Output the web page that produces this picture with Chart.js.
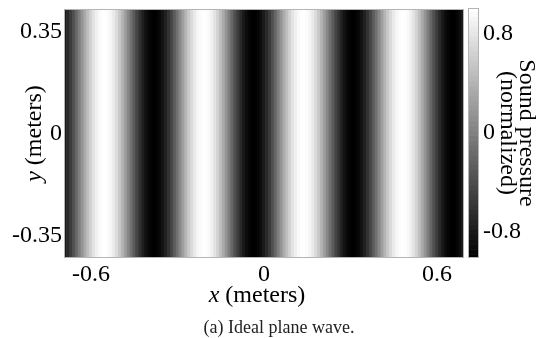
<!DOCTYPE html>
<html>
<head>
<meta charset="utf-8">
<script src="https://cdn.jsdelivr.net/npm/chart.js@4.4.1/dist/chart.umd.min.js"></script>
<style>
  body { margin: 0; background: #fff; }
  #wrap { position: relative; width: 554px; height: 338px; }
  #wrap canvas { position: absolute; left: 0; top: 0; }
  #caption { position: absolute; left: 0; top: 317px; width: 558px; text-align: center;
             font: 18px "Liberation Serif", "Times New Roman", serif; color: #222; }
</style>
</head>
<body>
<div id="wrap">
  <canvas id="waveChart" width="554" height="338"></canvas>
  <canvas id="barChart" width="554" height="338"></canvas>
  <div id="caption">(a) Ideal plane wave.</div>
</div>
<script>
// x position of each column of the field (meters)
const xCells = [
  -0.69, -0.68, -0.67, -0.66, -0.65, -0.64, -0.63, -0.62, -0.61, -0.60,
  -0.59, -0.58, -0.57, -0.56, -0.55, -0.54, -0.53, -0.52, -0.51, -0.50,
  -0.49, -0.48, -0.47, -0.46, -0.45, -0.44, -0.43, -0.42, -0.41, -0.40,
  -0.39, -0.38, -0.37, -0.36, -0.35, -0.34, -0.33, -0.32, -0.31, -0.30,
  -0.29, -0.28, -0.27, -0.26, -0.25, -0.24, -0.23, -0.22, -0.21, -0.20,
  -0.19, -0.18, -0.17, -0.16, -0.15, -0.14, -0.13, -0.12, -0.11, -0.10,
  -0.09, -0.08, -0.07, -0.06, -0.05, -0.04, -0.03, -0.02, -0.01, 0.00,
  0.01, 0.02, 0.03, 0.04, 0.05, 0.06, 0.07, 0.08, 0.09, 0.10,
  0.11, 0.12, 0.13, 0.14, 0.15, 0.16, 0.17, 0.18, 0.19, 0.20,
  0.21, 0.22, 0.23, 0.24, 0.25, 0.26, 0.27, 0.28, 0.29, 0.30,
  0.31, 0.32, 0.33, 0.34, 0.35, 0.36, 0.37, 0.38, 0.39, 0.40,
  0.41, 0.42, 0.43, 0.44, 0.45, 0.46, 0.47, 0.48, 0.49, 0.50,
  0.51, 0.52, 0.53, 0.54, 0.55, 0.56, 0.57, 0.58, 0.59, 0.60,
  0.61, 0.62, 0.63, 0.64, 0.65, 0.66, 0.67, 0.68, 0.69
];
// normalized sound pressure in each column (same for every y)
const pressure = [
  -0.80, -0.68, -0.54, -0.38, -0.20, -0.02, 0.16, 0.33, 0.50, 0.65,
  0.78, 0.88, 0.95, 0.99, 1.00, 0.97, 0.92, 0.83, 0.72, 0.58,
  0.42, 0.25, 0.07, -0.11, -0.29, -0.46, -0.61, -0.75, -0.85, -0.93,
  -0.98, -1.00, -0.98, -0.93, -0.85, -0.75, -0.61, -0.46, -0.29, -0.11,
  0.07, 0.25, 0.42, 0.58, 0.71, 0.83, 0.92, 0.97, 1.00, 0.99,
  0.95, 0.88, 0.78, 0.65, 0.50, 0.34, 0.16, -0.02, -0.20, -0.38,
  -0.54, -0.68, -0.80, -0.90, -0.96, -1.00, -1.00, -0.96, -0.90, -0.80,
  -0.68, -0.54, -0.38, -0.20, -0.02, 0.16, 0.34, 0.50, 0.65, 0.78,
  0.88, 0.95, 0.99, 1.00, 0.97, 0.92, 0.83, 0.72, 0.58, 0.42,
  0.25, 0.07, -0.11, -0.29, -0.46, -0.61, -0.75, -0.85, -0.93, -0.98,
  -1.00, -0.98, -0.93, -0.86, -0.75, -0.61, -0.46, -0.29, -0.11, 0.07,
  0.25, 0.42, 0.58, 0.71, 0.83, 0.92, 0.97, 1.00, 0.99, 0.95,
  0.88, 0.78, 0.65, 0.50, 0.33, 0.16, -0.02, -0.20, -0.38, -0.54,
  -0.68, -0.80, -0.90, -0.96, -1.00, -1.00, -0.96, -0.90, -0.80
];
const yExtent = [-0.425, 0.425];
const xTicks = [-0.6, 0, 0.6];
const xTickLabels = ["-0.6", "0", "0.6"];
const yTicks = [-0.35, 0, 0.35];
const yTickLabels = ["-0.35", "0", "0.35"];

// colour bar
const barLevels = [
  -1.00, -0.96, -0.92, -0.88, -0.84, -0.80, -0.76, -0.72, -0.68, -0.64,
  -0.60, -0.56, -0.52, -0.48, -0.44, -0.40, -0.36, -0.32, -0.28, -0.24,
  -0.20, -0.16, -0.12, -0.08, -0.04, 0.00, 0.04, 0.08, 0.12, 0.16,
  0.20, 0.24, 0.28, 0.32, 0.36, 0.40, 0.44, 0.48, 0.52, 0.56,
  0.60, 0.64, 0.68, 0.72, 0.76, 0.80, 0.84, 0.88, 0.92, 0.96, 1.00
];
const barTicks = [-0.8, 0, 0.8];
const barTickLabels = ["-0.8", "0", "0.8"];

const serif = "'Liberation Serif', 'Times New Roman', serif";
const fontSize = 24;

function gray(v) {
  const g = Math.round((v + 1) / 2 * 255);
  return `rgb(${g},${g},${g})`;
}

// thin grey box round the plot area
const frame = {
  id: "frame",
  afterDatasetsDraw(chart) {
    const a = chart.chartArea;
    const ctx = chart.ctx;
    ctx.save();
    ctx.strokeStyle = "#b4b4b4";
    ctx.lineWidth = 1;
    ctx.strokeRect(a.left - 0.5, a.top - 0.5, a.right - a.left + 1, a.bottom - a.top + 1);
    ctx.restore();
  }
};

// "x (meters)" with the variable in italics
function drawVarTitle(ctx, v, rest, cx, cy) {
  ctx.font = `italic ${fontSize}px ${serif}`;
  const w1 = ctx.measureText(v).width;
  ctx.font = `${fontSize}px ${serif}`;
  const w2 = ctx.measureText(rest).width;
  const x = cx - (w1 + w2) / 2;
  ctx.textAlign = "left";
  ctx.textBaseline = "middle";
  ctx.font = `italic ${fontSize}px ${serif}`;
  ctx.fillText(v, x, cy);
  ctx.font = `${fontSize}px ${serif}`;
  ctx.fillText(rest, x + w1, cy);
}

const axisTitles = {
  id: "axisTitles",
  afterDraw(chart) {
    const a = chart.chartArea;
    const ctx = chart.ctx;
    ctx.save();
    ctx.fillStyle = "#000";
    drawVarTitle(ctx, "x", " (meters)", (a.left + a.right) / 2 - 7, 296);
    ctx.translate(35, (a.top + a.bottom) / 2);
    ctx.rotate(-Math.PI / 2);
    drawVarTitle(ctx, "y", " (meters)", 0, 0);
    ctx.restore();
  }
};

const tickFont = { family: serif, size: fontSize };
const noGrid = { display: false, drawTicks: false };

// fixed axis sizes, no extra room for the end labels
function fixSize(w, h) {
  return (s) => {
    if (w !== null) s.width = w;
    if (h !== null) s.height = h;
    s.paddingTop = 0;
    s.paddingBottom = 0;
    s.paddingLeft = 0;
    s.paddingRight = 0;
  };
}

new Chart(document.getElementById("waveChart"), {
  type: "bar",
  data: {
    datasets: [{
      data: xCells.map((x) => ({ x: x, y: yExtent })),
      backgroundColor: pressure.map(gray),
      borderWidth: 0,
      barPercentage: 1,
      categoryPercentage: 1
    }]
  },
  options: {
    responsive: false,
    animation: false,
    layout: { autoPadding: false, padding: { top: 10, right: 91, left: 0, bottom: 0 } },
    plugins: { legend: { display: false }, tooltip: { enabled: false } },
    scales: {
      x: {
        type: "linear", min: -0.69, max: 0.69, offset: false,
        grid: noGrid, border: { display: false },
        afterBuildTicks: (s) => { s.ticks = xTicks.map((v) => ({ value: v })); },
        afterFit: fixSize(null, 81),
        ticks: { padding: 3, color: "#000", font: tickFont, maxRotation: 0,
                 callback: (v, i) => xTickLabels[i] }
      },
      y: {
        type: "linear", min: yExtent[0], max: yExtent[1],
        grid: noGrid, border: { display: false },
        afterBuildTicks: (s) => { s.ticks = yTicks.map((v) => ({ value: v })); },
        afterFit: fixSize(65, null),
        ticks: { padding: 3, color: "#000", font: tickFont,
                 callback: (v, i) => yTickLabels[i] }
      }
    }
  },
  plugins: [frame, axisTitles]
});

new Chart(document.getElementById("barChart"), {
  type: "bar",
  data: {
    datasets: [{
      data: barLevels.map((v) => ({ y: v, x: [0, 1] })),
      backgroundColor: barLevels.map(gray),
      borderWidth: 0,
      barPercentage: 1,
      categoryPercentage: 1
    }]
  },
  options: {
    indexAxis: "y",
    responsive: false,
    animation: false,
    layout: { autoPadding: false, padding: { left: 469, top: 9, bottom: 81, right: 0 } },
    plugins: { legend: { display: false }, tooltip: { enabled: false } },
    scales: {
      x: { type: "linear", display: false, min: 0, max: 1 },
      y: {
        type: "linear", position: "right", min: -1, max: 1, offset: false,
        grid: noGrid, border: { display: false },
        afterBuildTicks: (s) => { s.ticks = barTicks.map((v) => ({ value: v })); },
        afterFit: fixSize(76, null),
        ticks: { padding: 5, color: "#000", font: tickFont,
                 callback: (v, i) => barTickLabels[i] },
        title: {
          display: true,
          text: ["Sound pressure", "(normalized)"],
          color: "#000",
          font: { family: serif, size: fontSize, lineHeight: 0.8 },
          padding: { top: 18, bottom: 0 }
        }
      }
    }
  },
  plugins: [frame]
});
</script>
</body>
</html>
